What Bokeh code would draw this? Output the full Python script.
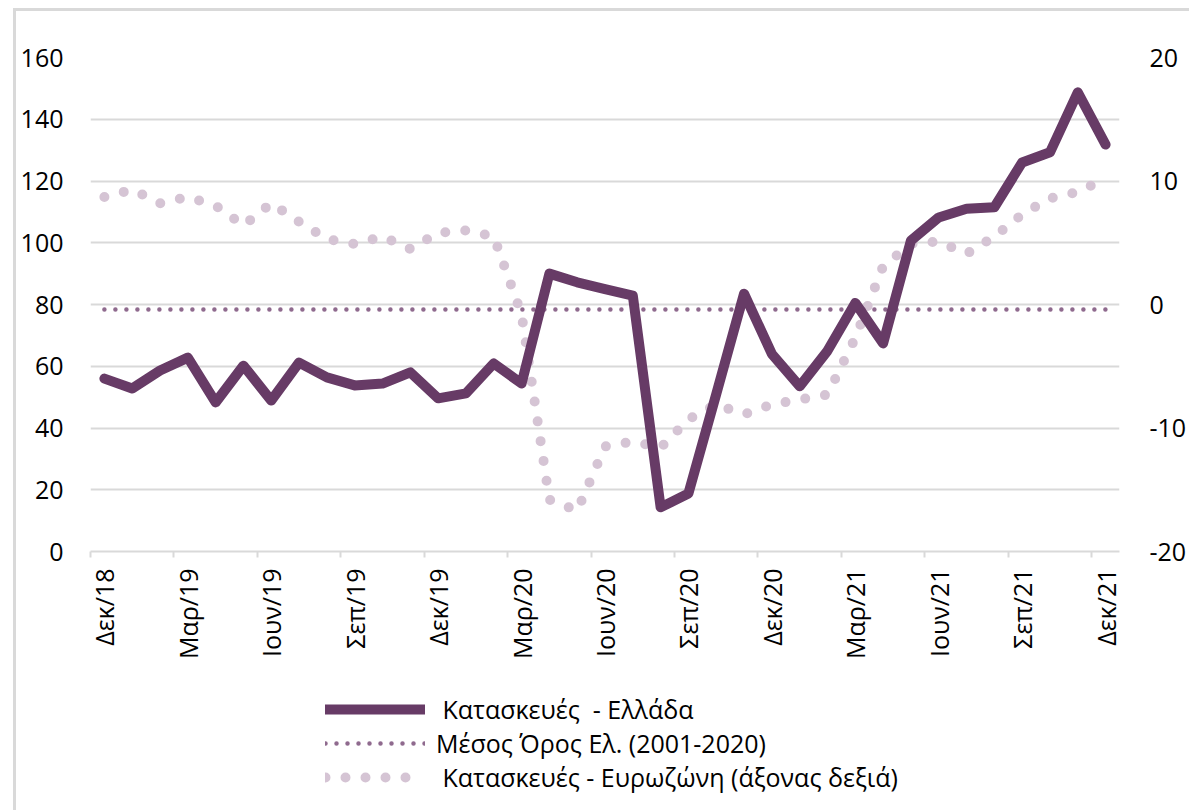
from bokeh.plotting import figure
from bokeh.layouts import column
from bokeh.models import (Range1d, LinearAxis, FixedTicker, Legend, LegendItem,
                          ColumnDataSource)
from bokeh.embed import file_html
from bokeh.resources import INLINE
import math

# ---------------- data ----------------
months = ["Δεκ/18", "Ιαν/19", "Φεβ/19", "Μαρ/19", "Απρ/19", "Μαϊ/19", "Ιουν/19",
          "Ιουλ/19", "Αυγ/19", "Σεπ/19", "Οκτ/19", "Νοε/19", "Δεκ/19", "Ιαν/20",
          "Φεβ/20", "Μαρ/20", "Απρ/20", "Μαϊ/20", "Ιουν/20", "Ιουλ/20", "Αυγ/20",
          "Σεπ/20", "Οκτ/20", "Νοε/20", "Δεκ/20", "Ιαν/21", "Φεβ/21", "Μαρ/21",
          "Απρ/21", "Μαϊ/21", "Ιουν/21", "Ιουλ/21", "Αυγ/21", "Σεπ/21", "Οκτ/21",
          "Νοε/21", "Δεκ/21"]

greece = [56.0, 52.8, 58.6, 62.8, 48.3, 60.2, 48.9, 61.2, 56.4, 53.8, 54.4, 58.0,
          49.6, 51.2, 60.9, 54.4, 90.0, 87.2, 85.0, 82.9, 14.3, 18.8, 51.0, 83.5,
          64.0, 53.5, 65.0, 80.5, 67.4, 100.7, 108.2, 111.0, 111.5, 126.0, 129.3,
          148.7, 131.8]

greece_mean = [78.4] * 37

eurozone = [8.7, 9.3, 8.2, 8.7, 8.0, 6.4, 8.2, 6.7, 5.3, 4.9, 5.5, 4.5,
            5.8, 6.0, 5.5, -0.8, -15.8, -16.7, -11.5, -11.1, -11.6, -9.3, -8.1, -8.9,
            -8.1, -7.7, -7.3, -2.7, 3.1, 4.9, 5.1, 4.1, 5.5, 7.3, 8.6, 9.1, 10.2]

left_ticks = [0, 20, 40, 60, 80, 100, 120, 140, 160]
right_ticks = [-20, -10, 0, 10, 20]
right_tick_labels = ["-20", "-10", "0", "10", "20"]
label_every = 3
legend_labels = [" Κατασκευές  - Ελλάδα", "Μέσος Όρος Ελ. (2001-2020)",
                 " Κατασκευές - Ευρωζώνη (άξονας δεξιά)"]

# ---------------- styles ----------------
FONT = "Open Sans"
FS = "25px"
C_GR = "#673b66"
C_MEAN = "#8f6a8e"
C_EZ = "#d5c4d4"
GRID = "#d9d9d9"
x = list(range(len(months)))

# ---------------- chart ----------------
p = figure(width=1173, height=679, output_backend="svg", toolbar_location=None,
           x_range=Range1d(-0.5, len(months) - 0.5),
           y_range=Range1d(left_ticks[0], left_ticks[-1]),
           min_border_left=74, min_border_right=67, min_border_top=46,
           min_border_bottom=139)
p.extra_y_ranges = {"right": Range1d(right_ticks[0], right_ticks[-1])}
p.outline_line_color = None
p.background_fill_color = "white"
p.border_fill_color = "white"

p.xgrid.grid_line_color = None
p.ygrid.grid_line_color = GRID
p.ygrid.grid_line_width = 2
p.yaxis.ticker = FixedTicker(ticks=left_ticks)

p.yaxis.axis_line_color = None
p.yaxis.major_tick_line_color = None
p.yaxis.major_tick_out = 0
p.yaxis.major_tick_in = 0
p.yaxis.minor_tick_line_color = None
p.yaxis.major_label_text_font = FONT
p.yaxis.major_label_text_font_size = FS
p.yaxis.major_label_text_color = "#000000"
p.yaxis.major_label_standoff = 27

ra = LinearAxis(y_range_name="right", ticker=FixedTicker(ticks=right_ticks))
ra.major_label_overrides = dict(zip(right_ticks, right_tick_labels))
ra.axis_line_color = None
ra.major_tick_line_color = None
ra.major_tick_out = 0
ra.major_tick_in = 0
ra.minor_tick_line_color = None
ra.major_label_text_font = FONT
ra.major_label_text_font_size = FS
ra.major_label_text_color = "#000000"
ra.major_label_standoff = 30
p.add_layout(ra, "right")

major = x[::label_every]
minor = [v - 0.5 for v in x[::label_every]]
p.xaxis.ticker = FixedTicker(ticks=major, minor_ticks=minor)
p.xaxis.major_label_overrides = {i: months[i] for i in major}
p.xaxis.major_label_orientation = math.pi / 2
p.xaxis.major_label_text_font = FONT
p.xaxis.major_label_text_font_size = FS
p.xaxis.major_label_text_color = "#000000"
p.xaxis.major_tick_line_color = None
p.xaxis.major_tick_out = 0
p.xaxis.major_tick_in = 0
p.xaxis.minor_tick_line_color = GRID
p.xaxis.minor_tick_line_width = 2
p.xaxis.minor_tick_out = 6
p.xaxis.minor_tick_in = 0
p.xaxis.axis_line_color = GRID
p.xaxis.axis_line_width = 2
p.xaxis.major_label_standoff = 11

src = ColumnDataSource(dict(x=x, gr=greece, mean=greece_mean, ez=eurozone))

p.line("x", "ez", source=src, y_range_name="right", line_color=C_EZ,
       line_width=10, line_dash="0 20", line_cap="round")
p.line("x", "mean", source=src, line_color=C_MEAN, line_width=4.5,
       line_dash="0 11", line_cap="round")
p.line("x", "gr", source=src, line_color=C_GR, line_width=10,
       line_join="round", line_cap="round")

# ---------------- legend strip ----------------
q = figure(width=1173, height=120, output_backend="svg", toolbar_location=None,
           x_range=Range1d(0, 1), y_range=Range1d(0, 1), min_border=0,
           x_axis_location=None, y_axis_location=None)
q.grid.grid_line_color = None
q.outline_line_color = None
l_gr = q.line("x", "gr", source=src, line_color=C_GR, line_width=10,
              line_cap="round", visible=False)
l_mean = q.line("x", "mean", source=src, line_color=C_MEAN, line_width=4.5,
                line_dash="0 11", line_cap="round", visible=False)
l_ez = q.line("x", "ez", source=src, line_color=C_EZ, line_width=10,
              line_dash="0 20", line_cap="round", visible=False)

for label, rend, ypos in zip(legend_labels, [l_gr, l_mean, l_ez], [84, 50, 16]):
    lg = Legend(items=[LegendItem(label=label, renderers=[rend])],
                location=(235, ypos), orientation="vertical")
    lg.background_fill_alpha = 0
    lg.border_line_color = None
    lg.inactive_fill_alpha = 0
    lg.padding = 0
    lg.margin = 0
    lg.spacing = 0
    lg.glyph_width = 100
    lg.glyph_height = 30
    lg.label_height = 30
    lg.label_standoff = 11
    lg.label_text_font = FONT
    lg.label_text_font_size = FS
    lg.label_text_color = "#000000"
    q.add_layout(lg, "center")

layout = column(p, q, spacing=0)
layout.styles = {"border-left": "3px solid #d9d9d9", "border-top": "3px solid #d9d9d9",
                 "margin-left": "13px", "margin-top": "8px"}
open("out.html", "w").write(file_html(layout, INLINE))
